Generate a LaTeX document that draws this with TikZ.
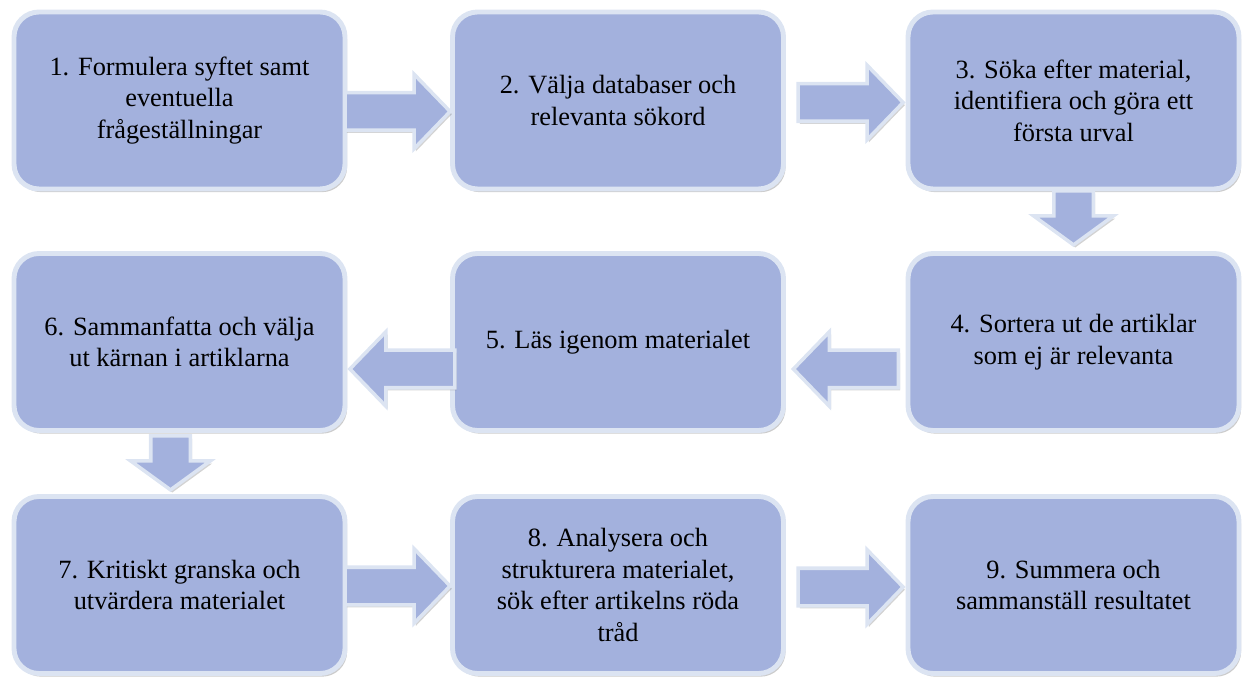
\documentclass[tikz,border=0pt]{standalone}
\usepackage{fontspec}
\setmainfont{Liberation Serif}
\usepackage{tikz}
\usetikzlibrary{calc,positioning}
\usetikzlibrary{shapes.arrows,shadows}
\definecolor{lit-text}{HTML}{000000}
\definecolor{lit-fill}{HTML}{A3B1DD}
\definecolor{lit-edge}{HTML}{DCE4F2}
\definecolor{lit-shadow}{HTML}{6E6E6E}

\begin{document}
\begin{tikzpicture}[
    box/.style={draw=lit-edge, fill=lit-fill, line width=2.8pt, rounded corners=0.5cm, minimum width=6.62cm, minimum height=3.54cm, align=center, text=lit-text, font=\rmfamily\fontsize{15}{18}\selectfont, drop shadow={shadow xshift=1.2pt, shadow yshift=-1.8pt, fill=lit-shadow, opacity=0.35}},
    pil/.style={single arrow, draw=lit-edge, fill=lit-fill, line width=2pt, minimum height=2.1cm, inner xsep=0pt, inner ysep=0.34cm, single arrow head extend=0.37cm, single arrow tip angle=92, anchor=tip, drop shadow={shadow xshift=1pt, shadow yshift=-1.5pt, fill=lit-shadow, opacity=0.3}},
    pilned/.style={pil, minimum height=1.08cm, inner ysep=0.36cm, single arrow head extend=0.4cm, single arrow tip angle=108, rotate=-90}
]
\useasboundingbox (0,0) rectangle (25,13.62);

% =========================================================================
% RAD 1: VÄNSTER TILL HÖGER
% =========================================================================
\node[box] (syfte) at (3.59, 11.61) {1. Formulera syftet samt\\eventuella\\frågeställningar};
\node[box] (databas) at (12.36, 11.61) {2. Välja databaser och\\relevanta sökord};
\node[box] (sok) at (21.47, 11.61) {3. Söka efter material,\\identifiera och göra ett\\första urval};

% =========================================================================
% RAD 2: HÖGER TILL VÄNSTER
% =========================================================================
\node[box] (sortera) at (21.47, 6.78) {4. Sortera ut de artiklar\\som ej är relevanta};
\node[box] (las) at (12.36, 6.78) {5. Läs igenom materialet};
\node[box] (sammanfatta) at (3.59, 6.78) {6. Sammanfatta och välja\\ut kärnan i artiklarna};

% =========================================================================
% RAD 3: VÄNSTER TILL HÖGER
% =========================================================================
\node[box] (granska) at (3.59, 1.92) {7. Kritiskt granska och\\utvärdera materialet};
\node[box] (analys) at (12.36, 1.92) {8. Analysera och\\strukturera materialet,\\sök efter artikelns röda\\tråd};
\node[box] (summera) at (21.47, 1.92) {9. Summera och\\sammanställ resultatet};

% =========================================================================
% BLOCKPILAR MELLAN STEGEN
% =========================================================================
\node[pil] (p12) at ($(databas.west)+(0.05,-0.22)$) {};
\node[pil] (p23) at ($(sok.west)+(0,-0.04)$) {};
\node[pilned] (p34) at ($(sortera.north)+(0,0.08)$) {};
\node[pil, rotate=180] (p45) at ($(las.east)+(0.1,-0.54)$) {};
\node[pil, rotate=180] (p56) at ($(sammanfatta.east)+(0,-0.54)$) {};
\node[pilned] (p67) at ($(granska.north)+(-0.18,0.04)$) {};
\node[pil] (p78) at ($(analys.west)+(0.05,-0.02)$) {};
\node[pil] (p89) at ($(summera.west)+(0,-0.04)$) {};

\end{tikzpicture}
\end{document}
